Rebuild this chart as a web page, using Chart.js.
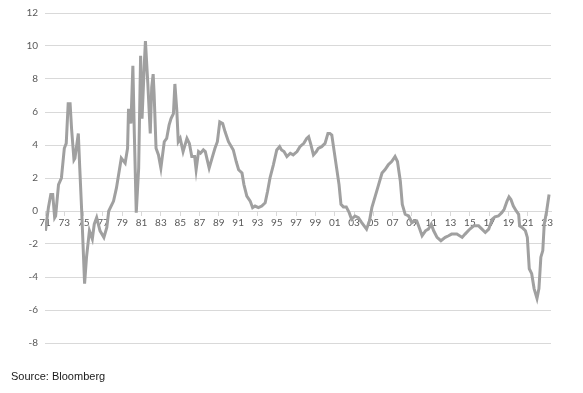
<!DOCTYPE html>
<html>
<head>
<meta charset="utf-8">
<script src="https://cdn.jsdelivr.net/npm/chart.js@4.4.1/dist/chart.umd.min.js"></script>
<style>
  html, body { margin: 0; padding: 0; background: #fff; }
  #wrap { position: relative; width: 583px; height: 393px; }
  #chart { position: absolute; left: 0; top: 0; }
  #source {
    position: absolute; left: 11px; top: 370px;
    font: 11px "Liberation Sans", Arial, sans-serif; line-height: 13px;
    color: #1a1a1a;
  }
</style>
</head>
<body>
<div id="wrap">
  <canvas id="chart" width="583" height="393"></canvas>
  <div id="source">Source: Bloomberg</div>
</div>
<script>
// values (decimal year, value)
const years = [
  1971.05, 1971.35, 1971.6, 1971.8, 1972.0, 1972.1, 1972.4, 1972.7, 1973.0, 1973.2,
  1973.4, 1973.6, 1973.75, 1974.0, 1974.1, 1974.45, 1974.6, 1974.8, 1975.1, 1975.3,
  1975.6, 1975.9, 1976.1, 1976.35, 1976.7, 1977.1, 1977.4, 1977.6, 1978.1, 1978.4,
  1978.9, 1979.3, 1979.55, 1979.65, 1979.9, 1980.1, 1980.25, 1980.45, 1980.7, 1980.9,
  1981.05, 1981.3, 1981.4, 1981.65, 1981.9, 1982.05, 1982.2, 1982.3, 1982.5, 1982.75,
  1983.0, 1983.35, 1983.6, 1983.85, 1984.05, 1984.3, 1984.45, 1984.65, 1984.8, 1985.0,
  1985.3, 1985.7, 1985.95, 1986.2, 1986.5, 1986.65, 1986.9, 1987.1, 1987.4, 1987.6,
  1988.0, 1988.3, 1988.6, 1988.85, 1989.1, 1989.4, 1989.65, 1990.0, 1990.5, 1990.8,
  1991.05, 1991.4, 1991.6, 1991.9, 1992.25, 1992.5, 1992.75, 1993.1, 1993.45, 1993.8,
  1994.05, 1994.3, 1994.65, 1995.0, 1995.3, 1995.5, 1995.75, 1996.05, 1996.4, 1996.7,
  1997.1, 1997.4, 1997.8, 1998.1, 1998.3, 1998.5, 1998.8, 1999.1, 1999.3, 1999.65,
  2000.0, 2000.3, 2000.5, 2000.7, 2000.95, 2001.2, 2001.45, 2001.65, 2001.9, 2002.2,
  2002.5, 2002.75, 2003.1, 2003.45, 2003.8, 2004.3, 2004.6, 2004.85, 2005.2, 2005.55,
  2005.9, 2006.2, 2006.55, 2006.9, 2007.25, 2007.5, 2007.8, 2008.0, 2008.3, 2008.65,
  2009.0, 2009.3, 2009.5, 2009.75, 2010.05, 2010.4, 2010.7, 2011.0, 2011.25, 2011.6,
  2012.0, 2012.45, 2012.8, 2013.1, 2013.3, 2013.65, 2014.2, 2014.5, 2014.9, 2015.4,
  2015.9, 2016.25, 2016.6, 2016.95, 2017.3, 2017.6, 2017.95, 2018.3, 2018.55, 2018.85,
  2019.05, 2019.25, 2019.5, 2019.8, 2020.05, 2020.15, 2020.4, 2020.75, 2020.95, 2021.15,
  2021.4, 2021.65, 2021.95, 2022.15, 2022.35, 2022.55, 2022.7, 2022.95, 2023.2
];
const values = [
  -1.2, 0.2, 1.0, 1.0, -0.4, -0.3, 1.6, 2.0, 3.8, 4.1,
  6.5, 6.5, 5.0, 3.1, 3.2, 4.7, 2.6, 0.0, -4.4, -2.8,
  -1.2, -1.7, -0.8, -0.4, -1.2, -1.6, -1.0, 0.0, 0.6, 1.4,
  3.2, 2.9, 3.8, 6.2, 5.3, 8.8, 4.7, -0.1, 2.6, 9.4,
  5.6, 9.1, 10.3, 7.7, 4.7, 7.5, 8.3, 7.1, 3.8, 3.4,
  2.6, 4.2, 4.4, 5.2, 5.6, 5.9, 7.7, 6.1, 4.2, 4.4,
  3.6, 4.4, 4.1, 3.3, 3.3, 2.5, 3.6, 3.5, 3.7, 3.6,
  2.6, 3.2, 3.8, 4.2, 5.4, 5.3, 4.8, 4.2, 3.7, 3.0,
  2.5, 2.3, 1.6, 0.9, 0.6, 0.2, 0.3, 0.2, 0.3, 0.5,
  1.2, 2.0, 2.8, 3.7, 3.9, 3.7, 3.6, 3.3, 3.5, 3.4,
  3.6, 3.9, 4.1, 4.4, 4.5, 4.1, 3.4, 3.6, 3.8, 3.9,
  4.1, 4.7, 4.7, 4.6, 3.6, 2.6, 1.6, 0.4, 0.25, 0.25,
  -0.1, -0.5, -0.3, -0.4, -0.7, -1.1, -0.6, 0.2, 0.9, 1.6,
  2.3, 2.5, 2.8, 3.0, 3.3, 3.0, 1.8, 0.4, -0.2, -0.3,
  -0.7, -0.6, -0.6, -1.0, -1.5, -1.2, -1.1, -0.8, -1.2, -1.6,
  -1.8, -1.6, -1.5, -1.4, -1.4, -1.4, -1.6, -1.4, -1.15, -0.9,
  -0.9, -1.1, -1.3, -1.1, -0.5, -0.35, -0.3, -0.1, 0.1, 0.6,
  0.85, 0.7, 0.3, 0.0, -0.2, -0.9, -1.0, -1.2, -1.6, -3.5,
  -3.8, -4.7, -5.3, -4.7, -2.8, -2.4, -0.8, 0.0, 1.0
];
// x tick labels, every other year
const tickYears = [];
for (let y = 1971; y <= 2023; y += 2) tickYears.push(y);
const yTicks = [-8, -6, -4, -2, 0, 2, 4, 6, 8, 10, 12];

const points = years.map((x, i) => ({ x: x, y: values[i] }));

Chart.defaults.font.family = "Lato, 'Open Sans', sans-serif";
Chart.defaults.font.size = 10;
Chart.defaults.color = "#595959";

new Chart(document.getElementById("chart"), {
  type: "line",
  data: {
    datasets: [{
      data: points,
      borderColor: "#a0a0a0",
      borderWidth: 3,
      pointRadius: 0,
      tension: 0,
      fill: false,
    }],
  },
  options: {
    responsive: false,
    animation: false,
    devicePixelRatio: 1,
    layout: { padding: { top: 11, right: 32, bottom: 50, left: 0 } },
    plugins: { legend: { display: false }, tooltip: { enabled: false } },
    scales: {
      x: {
        type: "linear",
        position: { y: 0 },
        z: 1, // labels over the line, like the original
        min: 1971,
        max: 2023.4,
        afterBuildTicks: (s) => { s.ticks = tickYears.map((v) => ({ value: v })); },
        ticks: {
          autoSkip: false,
          maxRotation: 0,
          padding: 2,
          callback: (v) => String(v % 100).padStart(2, "0"),
        },
        grid: {
          drawOnChartArea: false,
          drawTicks: true,
          tickLength: 4,
          color: "#d9d9d9",
        },
        border: { display: true, color: "#d9d9d9" },
      },
      y: {
        min: -8,
        max: 12,
        afterBuildTicks: (s) => { s.ticks = yTicks.map((v) => ({ value: v })); },
        afterFit: (s) => { s.width = 45; },
        ticks: { padding: 7 },
        grid: { color: "#d9d9d9", drawTicks: false },
        border: { display: false },
      },
    },
  },
});
</script>
</body>
</html>
